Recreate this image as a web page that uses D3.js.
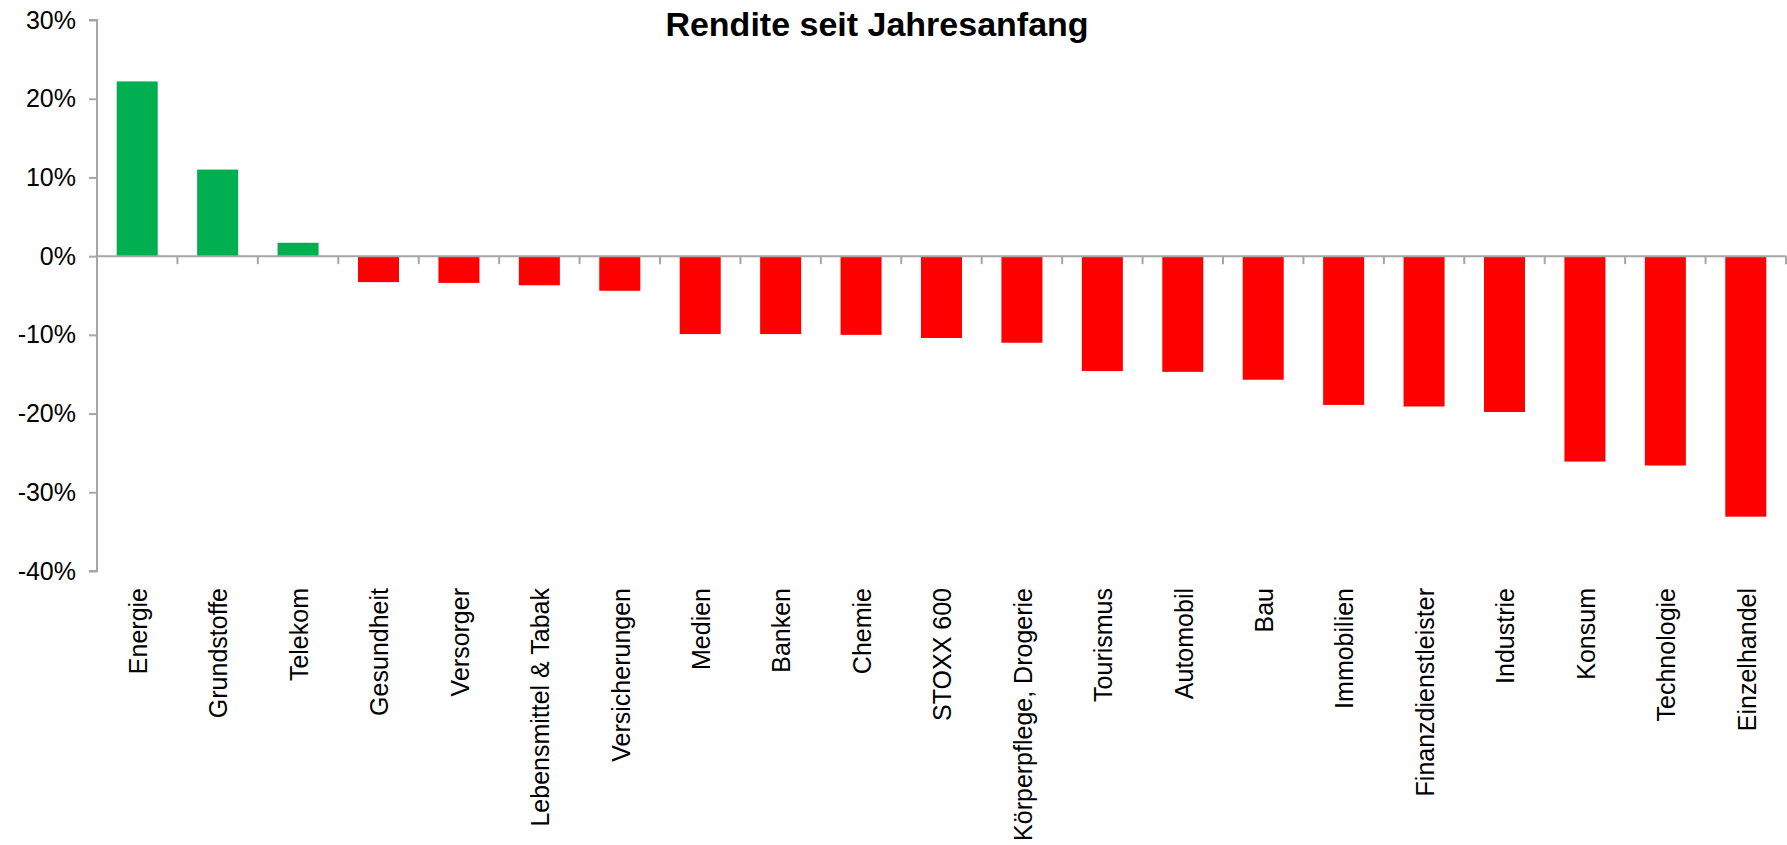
<!DOCTYPE html>
<html>
<head>
<meta charset="utf-8">
<script src="https://cdn.jsdelivr.net/npm/d3@7"></script>
<style>
  html, body { margin: 0; padding: 0; background: #fff; }
  svg { display: block; font-family: "Liberation Sans", Arial, sans-serif; }
</style>
</head>
<body>
<svg id="chart" width="1787" height="845"></svg>
<script>
const title = "Rendite seit Jahresanfang";
const categories = ["Energie", "Grundstoffe", "Telekom", "Gesundheit", "Versorger",
  "Lebensmittel & Tabak", "Versicherungen", "Medien", "Banken", "Chemie", "STOXX 600",
  "Körperpflege, Drogerie", "Tourismus", "Automobil", "Bau", "Immobilien",
  "Finanzdienstleister", "Industrie", "Konsum", "Technologie", "Einzelhandel"];
const values = [22.2, 11.0, 1.7, -3.3, -3.4, -3.7, -4.4, -9.9, -9.9, -10.0, -10.4,
  -11.0, -14.6, -14.7, -15.7, -18.9, -19.1, -19.8, -26.1, -26.6, -33.1];
const yTicks = [30, 20, 10, 0, -10, -20, -30, -40];

(function () {
const svg = d3.select("#chart");
const mLeft = 97, mRight = 1786, mTop = 20, mBottom = 571;

const x = d3.scaleBand().domain(categories).range([mLeft, mRight]).paddingInner(0.49).paddingOuter(0.245);
const xb = d3.scaleBand().domain(categories).range([mLeft, mRight]);
const y = d3.scaleLinear().domain([-40, 30]).range([mBottom, mTop]);

const axisColor = "#a6a6a6";

// bars
svg.append("g").selectAll("rect").data(values).join("rect")
  .attr("x", (d, i) => x(categories[i]))
  .attr("width", x.bandwidth())
  .attr("y", d => y(Math.max(0, d)))
  .attr("height", d => Math.abs(y(d) - y(0)))
  .attr("fill", d => d >= 0 ? "#00b050" : "#ff0000");

// y axis
const yAxis = d3.axisLeft(y).tickValues(yTicks).tickSize(8).tickPadding(13)
  .tickFormat(d => d + "%");
const gy = svg.append("g").attr("transform", `translate(${mLeft},0)`).call(yAxis);
gy.select(".domain").attr("stroke", axisColor).attr("stroke-width", 2)
  .attr("d", `M-8,${y(30)}H0V${y(-40)}H-8`);
gy.selectAll(".tick line").attr("stroke", axisColor).attr("stroke-width", 2);
gy.selectAll(".tick text").attr("font-size", 25).attr("fill", "#000")
  .attr("font-family", "Liberation Sans, Arial, sans-serif");

// zero line with category boundary ticks
const gx = svg.append("g").attr("transform", `translate(0,${y(0)})`);
gx.append("line").attr("x1", mLeft).attr("x2", mRight).attr("y1", 0).attr("y2", 0)
  .attr("stroke", axisColor).attr("stroke-width", 2);
const bounds = categories.map(c => xb(c) + xb.bandwidth());
gx.selectAll("line.t").data(bounds).join("line").attr("class", "t")
  .attr("x1", d => d).attr("x2", d => d).attr("y1", 0).attr("y2", 8)
  .attr("stroke", axisColor).attr("stroke-width", 2);

// category labels (below plot area, rotated)
svg.append("g").selectAll("text").data(categories).join("text")
  .attr("transform", d => `translate(${xb(d) + xb.bandwidth() / 2 + 1},588) rotate(-90)`)
  .attr("text-anchor", "end")
  .attr("dy", "0.35em")
  .attr("font-size", 25)
  .attr("fill", "#000")
  .text(d => d);

// title
svg.append("text").attr("x", 877).attr("y", 36).attr("text-anchor", "middle")
  .attr("font-size", 34).attr("font-weight", "bold").attr("fill", "#000")
  .text(title);
})();
</script>
</body>
</html>
